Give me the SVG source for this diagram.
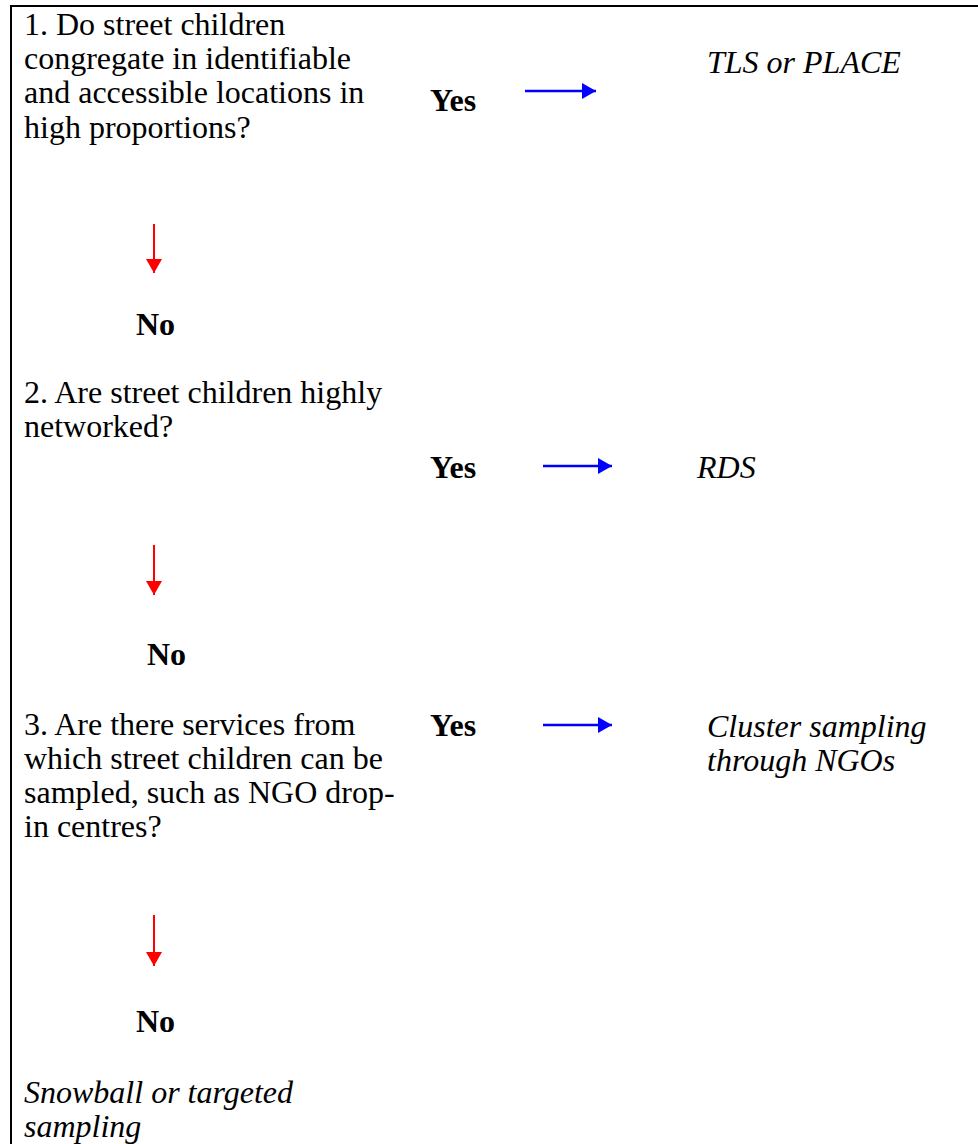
<svg xmlns="http://www.w3.org/2000/svg" width="978" height="1144" viewBox="0 0 978 1144">
<style>
text{font-family:"Liberation Serif","Times New Roman",serif;font-size:32px;fill:#000}
.b{font-weight:bold}
.i{font-style:italic}
.yes{stroke:#0000ff;stroke-width:2.5;fill:none}
.no{stroke:#ff0000;stroke-width:2;fill:none}
</style>
<defs>
<marker id="ab" markerUnits="userSpaceOnUse" markerWidth="14" markerHeight="16" refX="14" refY="8" orient="auto"><path d="M0,0 L14,8 L0,16 Z" fill="#0000ff"/></marker>
<marker id="ar" markerUnits="userSpaceOnUse" markerWidth="16" markerHeight="16" refX="14" refY="8" orient="auto"><path d="M0,0 L14,8 L0,16 Z" fill="#ff0000"/></marker>
</defs>
<rect width="978" height="1144" fill="#fff"/>
<path d="M11,1144 V6 H978" fill="none" stroke="#000" stroke-width="2"/>
<g id="q1"><text x="24" y="35">1. Do street children</text><text x="24" y="69">congregate in identifiable</text><text x="24" y="103">and accessible locations in</text><text x="24" y="138">high proportions?</text></g>
<g id="yes1"><text class="b" x="430" y="111">Yes</text></g>
<g id="r1"><text class="i" x="707" y="73">TLS or PLACE</text></g>
<g id="no1"><text class="b" x="136" y="335">No</text></g>
<g id="q2"><text x="24" y="403">2. Are street children highly</text><text x="24" y="437">networked?</text></g>
<g id="yes2"><text class="b" x="430" y="478">Yes</text></g>
<g id="r2"><text class="i" x="697" y="478">RDS</text></g>
<g id="no2"><text class="b" x="147" y="665">No</text></g>
<g id="q3"><text x="24" y="735">3. Are there services from</text><text x="24" y="769">which street children can be</text><text x="24" y="803">sampled, such as NGO drop-</text><text x="24" y="837">in centres?</text></g>
<g id="yes3"><text class="b" x="430" y="736">Yes</text></g>
<g id="r3"><text class="i" x="707" y="737">Cluster sampling</text><text class="i" x="707" y="771">through NGOs</text></g>
<g id="no3"><text class="b" x="136" y="1032">No</text></g>
<g id="r4"><text class="i" x="24" y="1103">Snowball or targeted</text><text class="i" x="24" y="1137">sampling</text></g>
<g id="connectors">
<line class="yes" x1="525" y1="91" x2="596" y2="91" marker-end="url(#ab)"/>
<line class="yes" x1="543" y1="466" x2="612" y2="466" marker-end="url(#ab)"/>
<line class="yes" x1="543" y1="725" x2="612" y2="725" marker-end="url(#ab)"/>
<line class="no" x1="154" y1="224" x2="154" y2="273" marker-end="url(#ar)"/>
<line class="no" x1="154" y1="545" x2="154" y2="595" marker-end="url(#ar)"/>
<line class="no" x1="154" y1="915" x2="154" y2="966" marker-end="url(#ar)"/>
</g>
</svg>
